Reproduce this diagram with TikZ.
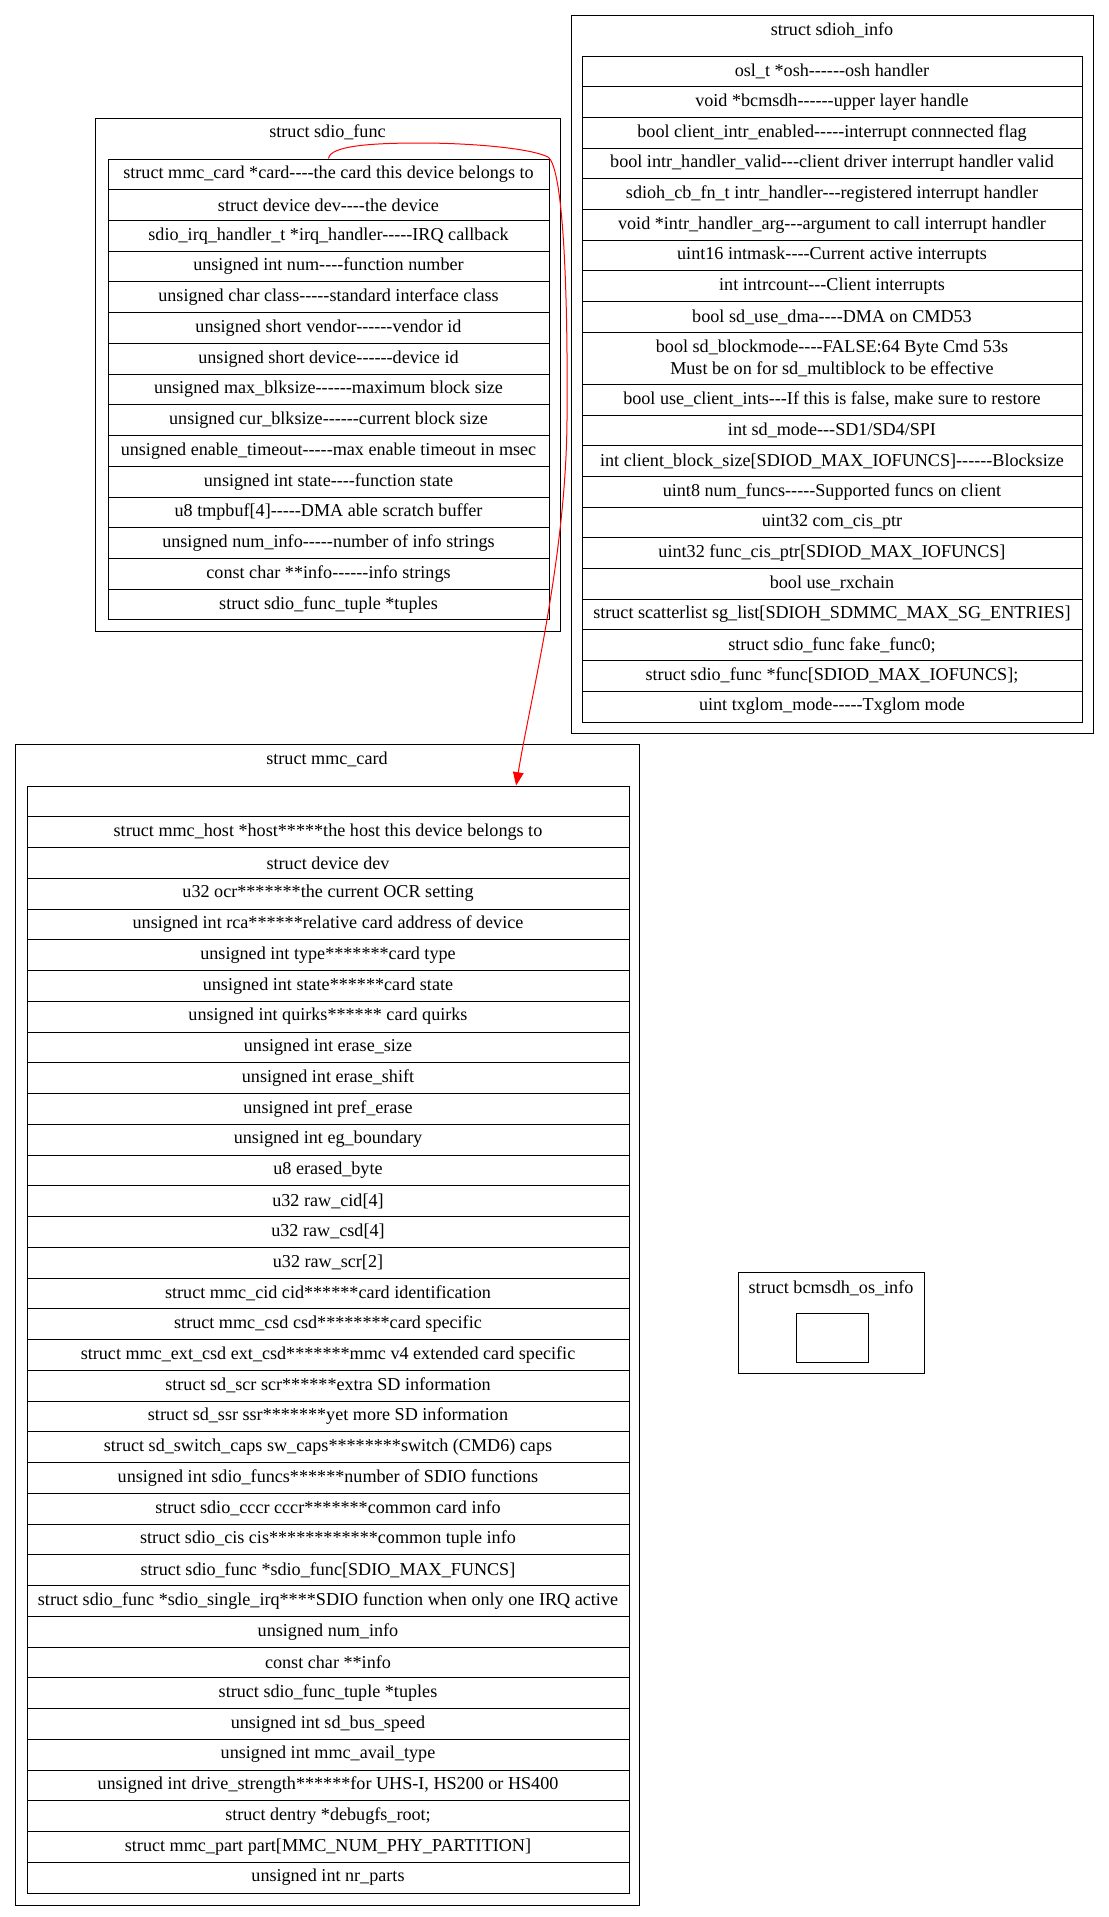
\documentclass[tikz,border=0pt]{standalone}
\usepackage{fontspec}
\newfontfamily\tfont{Liberation Serif}
\usetikzlibrary{arrows.meta,calc}
\begin{document}
\begin{tikzpicture}[x=0.75pt,y=-0.75pt,
  txt/.style={font=\tfont\fontsize{13.6}{16.3}\selectfont},
  row/.style={txt, draw=black, line width=0.75pt, inner sep=0pt, align=center},
  clus/.style={draw=black, line width=0.75pt, inner sep=0pt},
  ttl/.style={txt, inner sep=0pt},
  link/.style={draw=red, line width=0.75pt, -{Triangle[length=10pt,width=8pt]}}]
\useasboundingbox[fill=white] (0,0) rectangle (1109,1917);

% ---------- struct sdio_func ----------
\node[clus, minimum width=348.75pt, minimum height=384.75pt] (cf) at (327.5,374.5) {};
\node[ttl] (cft) at (327.5,132.5) {struct sdio\_func};
\foreach \t [count=\i] in {
 {struct mmc\_card *card----the card this device belongs to},
 {struct device dev----the device},
 {sdio\_irq\_handler\_t *irq\_handler-----IRQ callback},
 {unsigned int num----function number},
 {unsigned char class-----standard interface class},
 {unsigned short vendor------vendor id},
 {unsigned short device------device id},
 {unsigned max\_blksize------maximum block size},
 {unsigned cur\_blksize------current block size},
 {unsigned enable\_timeout-----max enable timeout in msec},
 {unsigned int state----function state},
 {u8 tmpbuf[4]-----DMA able scratch buffer},
 {unsigned num\_info-----number of info strings},
 {const char **info------info strings},
 {struct sdio\_func\_tuple *tuples}}
 \node[row, minimum width=330.75pt, minimum height=23.05pt] (f\i) at (328.5,{159+(\i-0.5)*30.73}) {\t};

% ---------- struct sdioh_info ----------
\node[clus, minimum width=391.5pt, minimum height=538.5pt] (ch) at (832,374) {};
\node[ttl] (cht) at (832,30) {struct sdioh\_info};
\foreach \t [count=\i] in {
 {osl\_t *osh------osh handler},
 {void *bcmsdh------upper layer handle},
 {bool client\_intr\_enabled-----interrupt connnected flag},
 {bool intr\_handler\_valid---client driver interrupt handler valid},
 {sdioh\_cb\_fn\_t intr\_handler---registered interrupt handler},
 {void *intr\_handler\_arg---argument to call interrupt handler},
 {uint16 intmask----Current active interrupts},
 {int intrcount---Client interrupts},
 {bool sd\_use\_dma----DMA on CMD53}}
 \node[row, minimum width=375pt, minimum height=23.025pt] (h\i) at (832,{56+(\i-0.5)*30.7}) {\t};
\node[row, minimum width=375pt, minimum height=39pt] (h10) at (832,358.3)
 {bool sd\_blockmode----FALSE:64 Byte Cmd 53s\\Must be on for sd\_multiblock to be effective};
\foreach \t [count=\i from 11] in {
 {bool use\_client\_ints---If this is false, make sure to restore},
 {int sd\_mode---SD1/SD4/SPI},
 {int client\_block\_size[SDIOD\_MAX\_IOFUNCS]------Blocksize},
 {uint8 num\_funcs-----Supported funcs on client},
 {uint32 com\_cis\_ptr},
 {uint32 func\_cis\_ptr[SDIOD\_MAX\_IOFUNCS]},
 {bool use\_rxchain},
 {struct scatterlist sg\_list[SDIOH\_SDMMC\_MAX\_SG\_ENTRIES]},
 {struct sdio\_func fake\_func0;},
 {struct sdio\_func *func[SDIOD\_MAX\_IOFUNCS];},
 {uint txglom\_mode-----Txglom mode}}
 \node[row, minimum width=375pt, minimum height=23.025pt] (h\i) at (832,{384.3+(\i-10.5)*30.7}) {\t};

% ---------- struct mmc_card ----------
\node[clus, minimum width=468pt, minimum height=870.75pt] (cm) at (327,1324.5) {};
\node[ttl] (cmt) at (327,759.5) {struct mmc\_card};
\foreach \t [count=\i] in {
 {},
 {struct mmc\_host *host*****the host this device belongs to},
 {struct device dev},
 {u32 ocr*******the current OCR setting},
 {unsigned int rca******relative card address of device},
 {unsigned int type*******card type},
 {unsigned int state******card state},
 {unsigned int quirks****** card quirks},
 {unsigned int erase\_size},
 {unsigned int erase\_shift},
 {unsigned int pref\_erase},
 {unsigned int eg\_boundary},
 {u8 erased\_byte},
 {u32 raw\_cid[4]},
 {u32 raw\_csd[4]},
 {u32 raw\_scr[2]},
 {struct mmc\_cid cid******card identification},
 {struct mmc\_csd csd********card specific},
 {struct mmc\_ext\_csd ext\_csd*******mmc v4 extended card specific},
 {struct sd\_scr scr******extra SD information},
 {struct sd\_ssr ssr*******yet more SD information},
 {struct sd\_switch\_caps sw\_caps********switch (CMD6) caps},
 {unsigned int sdio\_funcs******number of SDIO functions},
 {struct sdio\_cccr cccr*******common card info},
 {struct sdio\_cis cis************common tuple info},
 {struct sdio\_func *sdio\_func[SDIO\_MAX\_FUNCS]},
 {struct sdio\_func *sdio\_single\_irq****SDIO function when only one IRQ active},
 {unsigned num\_info},
 {const char **info},
 {struct sdio\_func\_tuple *tuples},
 {unsigned int sd\_bus\_speed},
 {unsigned int mmc\_avail\_type},
 {unsigned int drive\_strength******for UHS-I, HS200 or HS400},
 {struct dentry *debugfs\_root;},
 {struct mmc\_part part[MMC\_NUM\_PHY\_PARTITION]},
 {unsigned int nr\_parts}}
 \node[row, minimum width=451.5pt, minimum height=23.06pt] (m\i) at (328,{786+(\i-0.5)*30.75}) {\t};

% ---------- struct bcmsdh_os_info ----------
\node[clus, minimum width=139.5pt, minimum height=75.75pt] (cb) at (831,1322.5) {};
\node[ttl] (cbt) at (831,1288.5) {struct bcmsdh\_os\_info};
\node[row, minimum width=54pt, minimum height=36.75pt] (b1) at (832,1337.5) {};

% ---------- connector ----------
\coordinate (mend) at ($(m1.north west)!0.812!(m1.north east)$);
\draw[link] (f1.north) .. controls (330,146) and (370,143) .. (420,143)
  .. controls (470,143) and (530,148) .. (548,157)
  .. controls (564,168) and (568,300) .. (567,420)
  .. controls (566,560) and (530,700) .. (mend);
\end{tikzpicture}
\end{document}
